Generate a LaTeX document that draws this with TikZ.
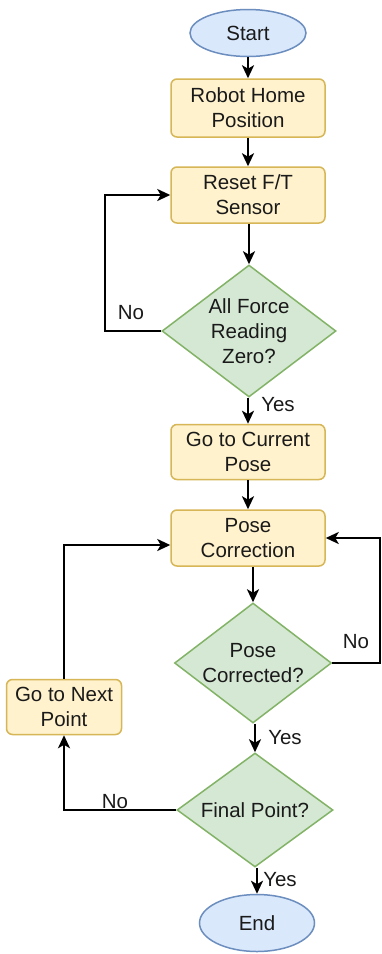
\documentclass[tikz,border=0pt]{standalone}
\usepackage{fontspec}
\setmainfont{Liberation Sans}
\usetikzlibrary{shapes.geometric,arrows.meta,calc}
\definecolor{yfill}{HTML}{FFF2CC}
\definecolor{ystroke}{HTML}{D6B656}
\definecolor{gfill}{HTML}{D5E8D4}
\definecolor{gstroke}{HTML}{82B366}
\definecolor{bfill}{HTML}{DAE8FC}
\definecolor{bstroke}{HTML}{6C8EBF}
\definecolor{txt}{HTML}{1A1A1A}
\begin{document}
\begin{tikzpicture}[x=1pt,y=-1pt,
  font=\fontsize{20.5}{25}\selectfont, text=txt,
  proc/.style={rectangle, rounded corners=6pt, draw=ystroke, fill=yfill, line width=1.5pt,
    minimum width=154pt, minimum height=56pt, align=center, inner sep=0pt},
  term/.style={ellipse, draw=bstroke, fill=bfill, line width=1.5pt, inner sep=0pt},
  dec/.style={diamond, draw=gstroke, fill=gfill, line width=1.5pt, inner sep=0pt},
  dtext/.style={align=center, inner sep=0pt, text=txt},
  arr/.style={line width=2.5pt, -{Stealth[length=13pt,width=12pt,inset=3.5pt]}},
  lbl/.style={inner sep=0pt}]
\fill[white] (0,0) rectangle (382,954);
\useasboundingbox (0,0) rectangle (382,954);

\node[term, minimum width=116pt, minimum height=47pt] (start) at (248,33) {Start};
\node[proc, minimum height=58pt] (home) at (248,108) {Robot Home\\Position};
\node[proc] (reset) at (248,195) {Reset F/T\\Sensor};
\node[dec, minimum width=174pt, minimum height=132pt] (d1) at (249,331) {};
\node[dtext] (d1t) at (d1.center) {All Force\\Reading\\Zero?};
\node[proc, minimum height=55pt] (gocur) at (248,452) {Go to Current\\Pose};
\node[proc] (pc) at (248,538) {Pose\\Correction};
\node[dec, minimum width=157pt, minimum height=120pt] (d2) at (253,663) {};
\node[dtext] (d2t) at (d2.center) {Pose\\Corrected?};
\node[proc, minimum width=115pt, minimum height=55pt] (next) at (64,707) {Go to Next\\Point};
\node[dec, minimum width=156pt, minimum height=114pt] (d3) at (255,810) {};
\node[dtext] (d3t) at (d3.center) {Final Point?};
\node[term, minimum width=115pt, minimum height=57pt] (end) at (257,923) {End};

\coordinate (l1) at (105,195);
\coordinate (r2) at (380,538);
\coordinate (l3) at (64,545);

\draw[arr] (start) -- (home);
\draw[arr] (home) -- (reset);
\draw[arr] (reset.south -| d1.north) -- (d1.north);
\draw[arr] (d1.west) -| (l1) -- (reset.west);
\draw[arr] (d1.south -| gocur.north) -- (gocur.north);
\draw[arr] (gocur) -- (pc);
\draw[arr] (pc.south -| d2.north) -- (d2.north);
\draw[arr] (d2.east) -| (r2) -- (pc.east);
\draw[arr] (d2.south -| d3.north) -- (d3.north);
\draw[arr] (d3.west) -| (next.south);
\draw[arr] (next.north) |- (pc.west |- l3);
\draw[arr] (d3.south -| end.north) -- (end.north);

\node[lbl] (no1) at (131,313) {No};
\node[lbl] (yes1) at (278,405) {Yes};
\node[lbl] (no2) at (356,642) {No};
\node[lbl] (yes2) at (285,738) {Yes};
\node[lbl] (no3) at (115,802) {No};
\node[lbl] (yes3) at (280,880) {Yes};
\end{tikzpicture}
\end{document}
